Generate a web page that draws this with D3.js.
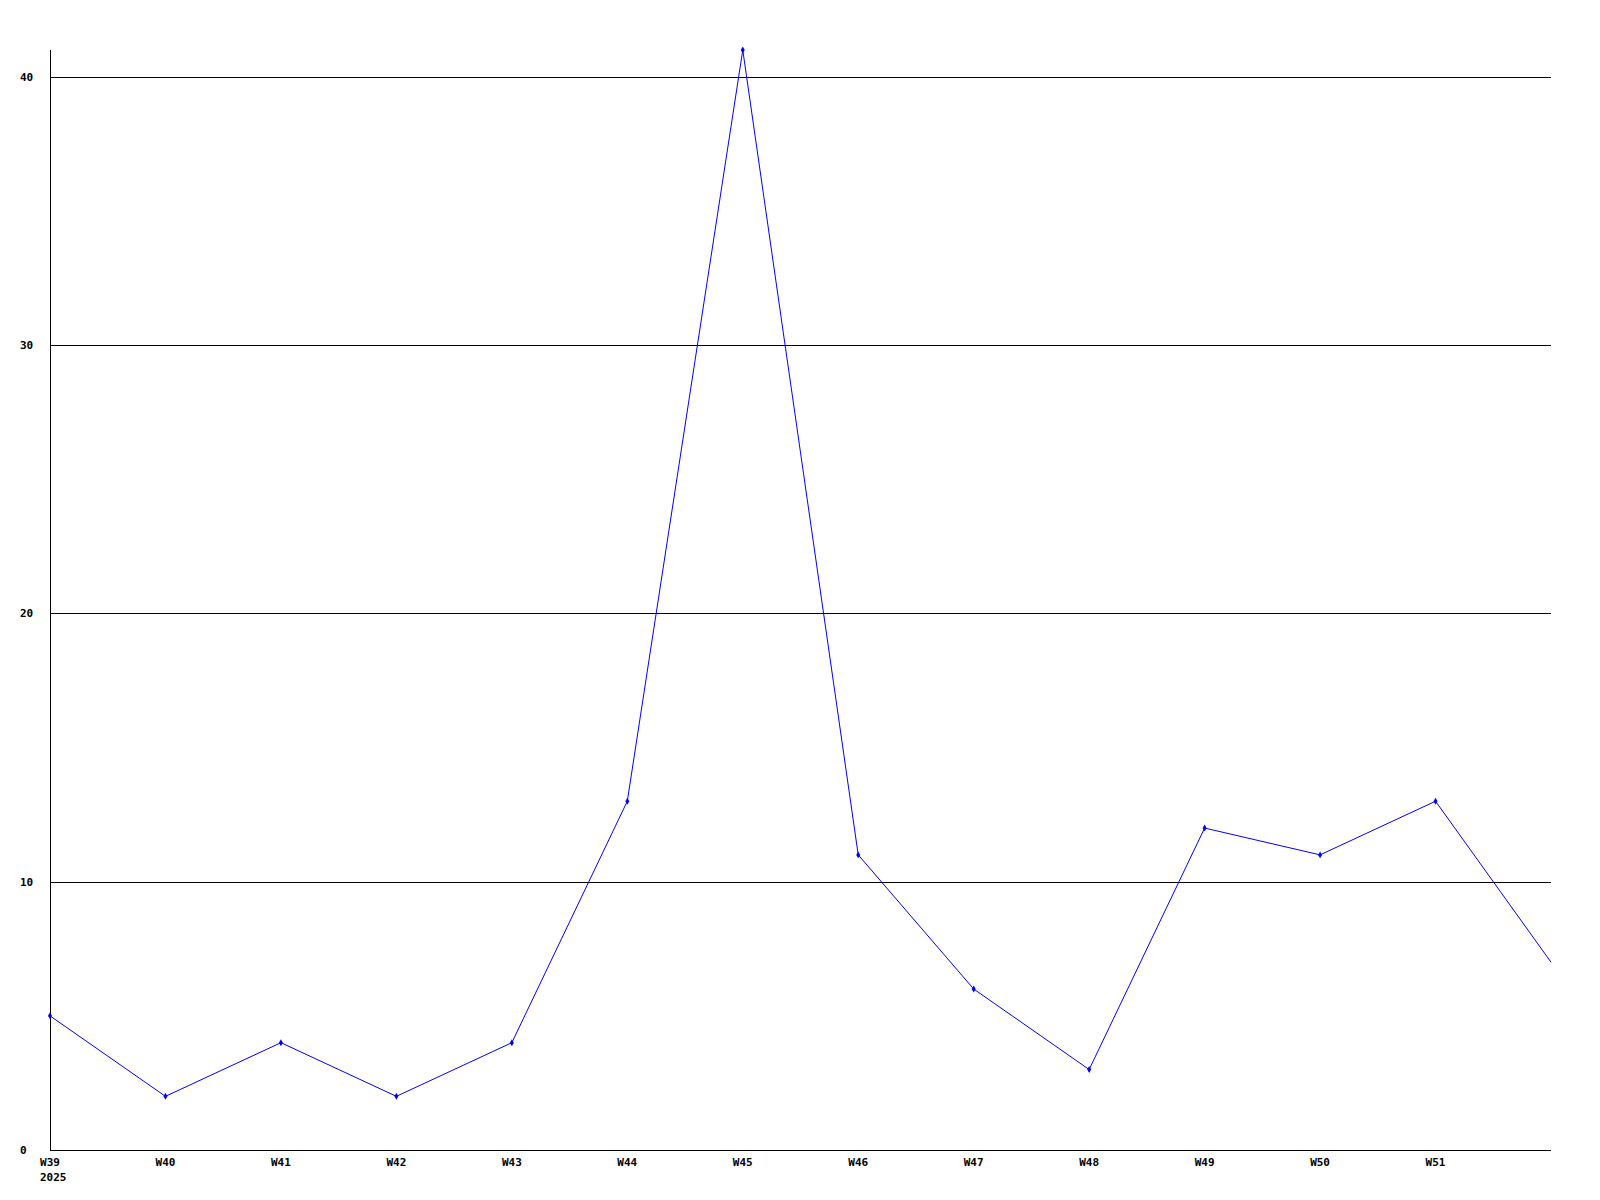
<!DOCTYPE html>
<html>
<head>
<meta charset="utf-8">
<script src="https://cdn.jsdelivr.net/npm/d3@7/dist/d3.min.js"></script>
<style>
  html, body { margin: 0; padding: 0; background: #fff; }
  svg { display: block; }
  text { font-family: "DejaVu Sans Mono", "Liberation Mono", monospace; font-weight: bold; font-size: 11px; fill: #000; }
</style>
</head>
<body>
<script>
// Data
const weeks = ["W39","W40","W41","W42","W43","W44","W45","W46","W47","W48","W49","W50","W51","W52"];
const values = [5, 2, 4, 2, 4, 13, 41, 11, 6, 3, 12, 11, 13, 7];
const xTickLabels = ["W39","W40","W41","W42","W43","W44","W45","W46","W47","W48","W49","W50","W51"];
const yearLabel = "2025";
const yTicks = [0, 10, 20, 30, 40];

(function () {
const W = 1600, H = 1200;
const pLeft = 50, pRight = 1551, pTop = 50, pBottom = 1150;

const svg = d3.select("body").append("svg").attr("width", W).attr("height", H);

const x = d3.scaleLinear().domain([0, weeks.length - 1]).range([pLeft, pRight]);
const y = d3.scaleLinear().domain([0, 41]).range([pBottom, pTop]);

// gridlines
svg.append("g").selectAll("line")
  .data(yTicks.filter(d => d > 0))
  .join("line")
  .attr("x1", pLeft).attr("x2", pRight)
  .attr("y1", d => Math.round(y(d)) + 0.5).attr("y2", d => Math.round(y(d)) + 0.5)
  .attr("stroke", "#000").attr("stroke-width", 1);

// axes lines
svg.append("line").attr("x1", pLeft + 0.5).attr("x2", pLeft + 0.5).attr("y1", pTop).attr("y2", pBottom + 0.5)
  .attr("stroke", "#000");
svg.append("line").attr("x1", pLeft).attr("x2", pRight).attr("y1", pBottom + 0.5).attr("y2", pBottom + 0.5)
  .attr("stroke", "#000");

// y labels
svg.append("g").selectAll("text")
  .data(yTicks)
  .join("text")
  .attr("x", 20)
  .attr("y", d => y(d) + 4)
  .text(d => d);

// x labels
svg.append("g").selectAll("text")
  .data(xTickLabels)
  .join("text")
  .attr("x", (d, i) => x(i))
  .attr("y", 1166)
  .attr("text-anchor", "middle")
  .text(d => d);
svg.append("text").attr("x", 40).attr("y", 1181).text(yearLabel);

// line
const line = d3.line().x((d, i) => x(i)).y(d => y(d));
svg.append("path")
  .datum(values)
  .attr("d", line)
  .attr("fill", "none")
  .attr("stroke", "#0000ff")
  .attr("stroke-width", 1);

// markers (last point sits on the plot edge and has no marker)
svg.append("g").selectAll("path")
  .data(values.slice(0, xTickLabels.length))
  .join("path")
  .attr("transform", (d, i) => `translate(${x(i)},${y(d)})`)
  .attr("d", d3.symbol(d3.symbolDiamond, 14)())
  .attr("fill", "#0000ff");
})();
</script>
</body>
</html>
